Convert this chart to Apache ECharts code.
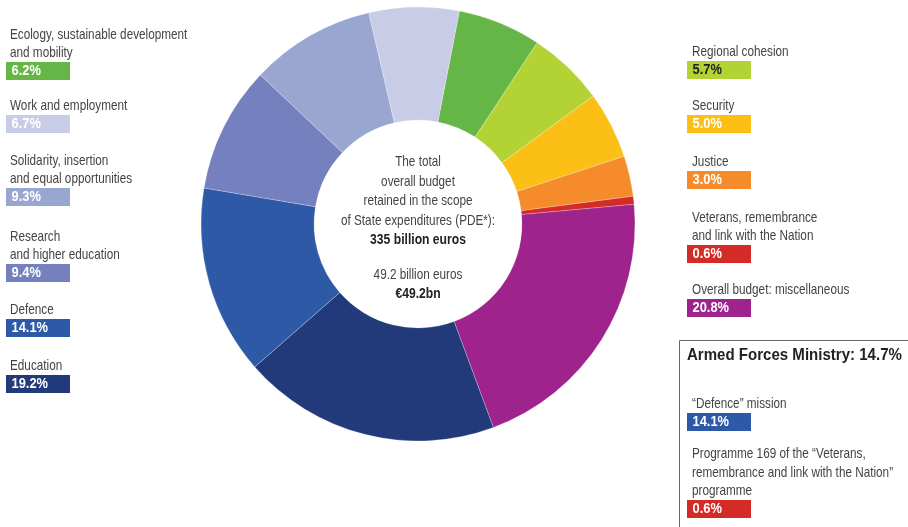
<!DOCTYPE html>
<html>
<head>
<meta charset="utf-8">
<script src="https://cdn.jsdelivr.net/npm/echarts@6/dist/echarts.min.js"></script>
<style>
html,body{margin:0;padding:0;background:#fff;}
#chart{width:908px;height:527px;}
</style>
</head>
<body>
<div id="chart"></div>
<script>
// ---- data (clockwise from top) ----
const categories = [
  "Ecology, sustainable development\nand mobility",
  "Regional cohesion",
  "Security",
  "Justice",
  "Veterans, remembrance\nand link with the Nation",
  "Overall budget: miscellaneous",
  "Education",
  "Defence",
  "Research\nand higher education",
  "Solidarity, insertion\nand equal opportunities",
  "Work and employment"
];
const shares = [6.2, 5.7, 5.0, 3.0, 0.6, 20.8, 19.2, 14.1, 9.4, 9.3, 6.7];
const centerLines = ["The total", "overall budget", "retained in the scope", "of State expenditures (PDE*):"];
const totalLabel = "335 billion euros";
const ministryLines = ["49.2 billion euros", "€49.2bn"];
const armedTitle = "Armed Forces Ministry: 14.7%";
const armedItems = ["“Defence” mission", "Programme 169 of the “Veterans,\nremembrance and link with the Nation”\nprogramme"];
const armedShares = [14.1, 0.6];

// ---- styles / layout ----
const colors = ["#65b646","#b3d335","#fbbf15","#f58b2a","#d52b27","#9e238d","#223a7a","#2d59a6","#7580be","#99a6d0","#c9cce6"];
const armedColors = ["#2d59a6","#d52b27"];
const FONT = '"Liberation Sans","Arial",sans-serif';
const TXT = '#444';
const SX = 0.81;
// legend slots: [index, side, boxCenterY]
const legendSlots = [
  [0,'L',71],[10,'L',124],[9,'L',197],[8,'L',273],[7,'L',328],[6,'L',384],
  [1,'R',70],[2,'R',124],[3,'R',180],[4,'R',254],[5,'R',308]
];
const LINE_H = 18.3;

const graphics = [];
function txt(x, y, s, size, bold, color, align, sx){
  graphics.push({type:'text', x:x, y:y, scaleX: sx || SX, scaleY:1,
    style:{x:0, y:0, text:s, font:(bold?'bold ':'')+size+'px '+FONT, fill:color,
      textAlign:align||'left', textVerticalAlign:'middle'}});
}
function legendItem(label, value, color, side, boxY, darkText){
  const bx = side === 'L' ? 6 : 687;
  const tx = side === 'L' ? 10 : 692;
  const lines = label.split('\n');
  lines.forEach((ln, i) => {
    txt(tx, boxY - 18 - LINE_H*(lines.length - 1 - i), ln, 14.5, false, TXT);
  });
  graphics.push({type:'rect', shape:{x:bx, y:boxY-9, width:64, height:18}, style:{fill:color}});
  txt(bx+5.5, boxY+0.5, value.toFixed(1)+'%', 14, true, darkText ? '#222' : '#fff', 'left', 0.92);
}
legendSlots.forEach(([idx, side, y]) => {
  legendItem(categories[idx], shares[idx], colors[idx], side, y, idx === 1);
});

// center text
const CX = 418;
centerLines.forEach((ln, i) => {
  txt(CX, 162 + i*19.5, ln, 14.5, false, '#444', 'center');
});
txt(CX, 240, totalLabel, 15, true, '#222', 'center');
txt(CX, 275, ministryLines[0], 14.5, false, '#444', 'center');
txt(CX, 294, ministryLines[1], 15, true, '#222', 'center');

// armed forces box
graphics.push({type:'rect', shape:{x:679.5, y:340.5, width:240, height:200}, style:{fill:'none', stroke:'#666', lineWidth:1}});
txt(687, 355, armedTitle, 17, true, '#222', 'left', 0.885);
legendItem(armedItems[0], armedShares[0], armedColors[0], 'R', 422, false);
legendItem(armedItems[1], armedShares[1], armedColors[1], 'R', 509, false);

const chart = echarts.init(document.getElementById('chart'), null, {renderer:'canvas'});
chart.setOption({
  animation:false,
  graphic: graphics,
  series:[{
    type:'pie',
    center:[418, 224],
    radius:[104, 217],
    startAngle:79,
    clockwise:true,
    avoidLabelOverlap:false,
    label:{show:false},
    labelLine:{show:false},
    emphasis:{disabled:true},
    itemStyle:{borderColor:'rgba(255,255,255,0.5)', borderWidth:0.5},
    data: shares.map((v,i)=>({value:v, name:categories[i], itemStyle:{color:colors[i]}}))
  }]
});
</script>
</body>
</html>
